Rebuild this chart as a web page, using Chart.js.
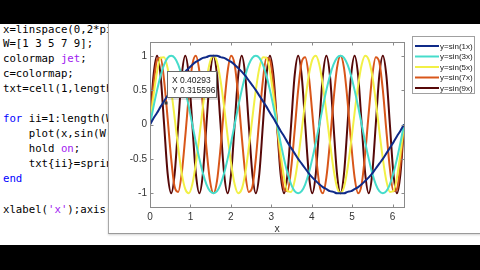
<!DOCTYPE html>
<html><head><meta charset="utf-8">
<script src="https://cdn.jsdelivr.net/npm/chart.js@4/dist/chart.umd.min.js"></script>
<style>
html,body{margin:0;padding:0;width:480px;height:270px;overflow:hidden;background:#fff;}
#topbar{position:absolute;left:0;top:0;width:480px;height:24px;background:#000;z-index:5;}
#botbar{position:absolute;left:0;top:245px;width:480px;height:25px;background:#000;z-index:5;}
#code{position:absolute;left:0;top:0;width:108px;height:245px;overflow:hidden;font-family:'DejaVu Sans Mono',monospace;font-size:10.7px;color:#000;z-index:1;}
.l{position:absolute;left:3px;white-space:pre;line-height:14px;}
.k{color:#0000ff}.s{color:#a020f0}
#win{position:absolute;left:108px;top:15px;width:372px;height:218px;background:#fff;border-left:1px solid #a8a8a8;border-bottom:1px solid #9a9a9a;box-shadow:0 1px 2px rgba(0,0,0,0.18);z-index:2;}
#c{position:absolute;left:0;top:0;z-index:3;}
</style>
</head><body>
<div id="topbar"></div><div id="botbar"></div>
<div id="code">
<div class="l" style="top:23px">x=linspace(0,2*pi,1000);</div>
<div class="l" style="top:37px">W=[1 3 5 7 9];</div>
<div class="l" style="top:52px">colormap <span class="s">jet</span>;</div>
<div class="l" style="top:67px">c=colormap;</div>
<div class="l" style="top:82px">txt=cell(1,length(W));</div>
<div class="l" style="top:112px"><span class="k">for</span> ii=1:length(W)</div>
<div class="l" style="top:127px">    plot(x,sin(W(ii)*x));</div>
<div class="l" style="top:142px">    hold <span class="s">on</span>;</div>
<div class="l" style="top:157px">    txt{ii}=sprintf(...);</div>
<div class="l" style="top:172px"><span class="k">end</span></div>
<div class="l" style="top:203px">xlabel(<span class="s">'x'</span>);axis([0 2*pi -1.2 1.2]);</div>
</div>
<div id="win"></div>
<canvas id="c" width="480" height="270"></canvas>
<script>
const labels = ['y=sin(1x)','y=sin(3x)','y=sin(5x)','y=sin(7x)','y=sin(9x)'];
const colors = ['#0f2a88','#46dccb','#f2f046','#d8561a','#560808'];
const xs = [0,0.087,0.175,0.262,0.349,0.436,0.524,0.611,0.698,0.785,0.873,0.960,1.047,1.134,1.222,1.309,1.396,1.484,1.571,1.658,1.745,1.833,1.920,2.007,2.094,2.182,2.269,2.356,2.443,2.531,2.618,2.705,2.793,2.880,2.967,3.054,3.142,3.229,3.316,3.403,3.491,3.578,3.665,3.752,3.840,3.927,4.014,4.102,4.189,4.276,4.363,4.451,4.538,4.625,4.712,4.800,4.887,4.974,5.061,5.149,5.236,5.323,5.411,5.498,5.585,5.672,5.760,5.847,5.934,6.021,6.109,6.196,6.283];
const s1 = [0,0.09,0.17,0.26,0.34,0.42,0.5,0.57,0.64,0.71,0.77,0.82,0.87,0.91,0.94,0.97,0.98,1,1,1,0.98,0.97,0.94,0.91,0.87,0.82,0.77,0.71,0.64,0.57,0.5,0.42,0.34,0.26,0.17,0.09,0,-0.09,-0.17,-0.26,-0.34,-0.42,-0.5,-0.57,-0.64,-0.71,-0.77,-0.82,-0.87,-0.91,-0.94,-0.97,-0.98,-1,-1,-1,-0.98,-0.97,-0.94,-0.91,-0.87,-0.82,-0.77,-0.71,-0.64,-0.57,-0.5,-0.42,-0.34,-0.26,-0.17,-0.09,0];
const s3 = [0,0.26,0.5,0.71,0.87,0.97,1,0.97,0.87,0.71,0.5,0.26,0,-0.26,-0.5,-0.71,-0.87,-0.97,-1,-0.97,-0.87,-0.71,-0.5,-0.26,
0,0.26,0.5,0.71,0.87,0.97,1,0.97,0.87,0.71,0.5,0.26,0,-0.26,-0.5,-0.71,-0.87,-0.97,-1,-0.97,-0.87,-0.71,-0.5,-0.26,
0,0.26,0.5,0.71,0.87,0.97,1,0.97,0.87,0.71,0.5,0.26,0,-0.26,-0.5,-0.71,-0.87,-0.97,-1,-0.97,-0.87,-0.71,-0.5,-0.26,0];
const s5 = [0,0.42,0.77,0.97,0.98,0.82,0.5,0.09,-0.34,-0.71,-0.94,-1,-0.87,-0.57,-0.17,0.26,0.64,0.91,1,0.91,0.64,0.26,-0.17,-0.57,-0.87,-1,-0.94,-0.71,-0.34,0.09,0.5,0.82,0.98,0.97,0.77,0.42,0,
-0.42,-0.77,-0.97,-0.98,-0.82,-0.5,-0.09,0.34,0.71,0.94,1,0.87,0.57,0.17,-0.26,-0.64,-0.91,-1,-0.91,-0.64,-0.26,0.17,0.57,0.87,1,0.94,0.71,0.34,-0.09,-0.5,-0.82,-0.98,-0.97,-0.77,-0.42,0];
const s7 = [0,0.57,0.94,0.97,0.64,0.09,-0.5,-0.91,-0.98,-0.71,-0.17,0.42,0.87,1,0.77,0.26,-0.34,-0.82,-1,-0.82,-0.34,0.26,0.77,1,0.87,0.42,-0.17,-0.71,-0.98,-0.91,-0.5,0.09,0.64,0.97,0.94,0.57,0,
-0.57,-0.94,-0.97,-0.64,-0.09,0.5,0.91,0.98,0.71,0.17,-0.42,-0.87,-1,-0.77,-0.26,0.34,0.82,1,0.82,0.34,-0.26,-0.77,-1,-0.87,-0.42,0.17,0.71,0.98,0.91,0.5,-0.09,-0.64,-0.97,-0.94,-0.57,0];
const s9 = [0,0.71,1,0.71,0,-0.71,-1,-0.71,0,0.71,1,0.71,0,-0.71,-1,-0.71,0,0.71,1,0.71,0,-0.71,-1,-0.71,0,0.71,1,0.71,0,-0.71,-1,-0.71,0,0.71,1,0.71,0,-0.71,-1,-0.71,0,0.71,1,0.71,0,-0.71,-1,-0.71,0,0.71,1,0.71,0,-0.71,-1,-0.71,0,0.71,1,0.71,0,-0.71,-1,-0.71,0,0.71,1,0.71,0,-0.71,-1,-0.71,0];
const xTicks = [0,1,2,3,4,5,6];
const yTicks = [-1,-0.5,0,0.5,1];
const tipX = [0.40293];
const tipY = [0.315596];
const xLabel = 'x';

const series = [s1,s3,s5,s7,s9];
const FONT = "'Liberation Sans', Arial, sans-serif";

const overlay = {
  id:'overlay',
  afterDatasetsDraw(chart){
    const {ctx, chartArea:a, scales:{x,y}} = chart;
    ctx.save();
    ctx.strokeStyle='#8a8a8a'; ctx.lineWidth=1;
    const L=Math.round(a.left)+0.5, T=Math.round(a.top)+0.5, R=Math.round(a.right)+0.5, B=Math.round(a.bottom)+0.5;
    ctx.strokeRect(L,T,R-L,B-T);
    ctx.beginPath();
    xTicks.forEach(v=>{const p=Math.round(x.getPixelForValue(v))+0.5; ctx.moveTo(p,B); ctx.lineTo(p,B-3); ctx.moveTo(p,T); ctx.lineTo(p,T+3);});
    yTicks.forEach(v=>{const p=Math.round(y.getPixelForValue(v))+0.5; ctx.moveTo(L,p); ctx.lineTo(L+3,p); ctx.moveTo(R,p); ctx.lineTo(R-3,p);});
    ctx.stroke();
    const px=Math.round(x.getPixelForValue(tipX[0])), py=Math.round(y.getPixelForValue(tipY[0]));
    ctx.fillStyle='rgba(0,0,0,0.12)';
    ctx.fillRect(px+2,py-31,51,28);
    ctx.fillStyle='#ffffff';
    ctx.fillRect(px+1,py-32,50,27);
    ctx.strokeStyle='#6a6a6a';
    ctx.strokeRect(px+1.5,py-31.5,49,26);
    ctx.fillStyle='#3a3a3a';
    ctx.fillRect(px-1.5,py-1.5,3,3);
    ctx.fillStyle='#1a1a1a';
    ctx.font='8.5px '+FONT;
    ctx.textBaseline='middle'; ctx.textAlign='left';
    ctx.fillText('X '+tipX[0], px+6, py-22);
    ctx.fillText('Y '+tipY[0], px+6, py-12);
    ctx.fillStyle='#ffffff';
    ctx.fillRect(412,36,62,57);
    ctx.strokeStyle='#a0a0a0';
    ctx.strokeRect(412.5,36.5,62,57);
    ctx.font='8px '+FONT;
    labels.forEach((lb,i)=>{
      const yy=46+i*10.5;
      ctx.strokeStyle=colors[i]; ctx.lineWidth=2;
      ctx.beginPath(); ctx.moveTo(415,yy); ctx.lineTo(439,yy); ctx.stroke();
      ctx.fillStyle='#1a1a1a';
      ctx.fillText(lb,440,yy+0.5);
    });
    ctx.restore();
  }
};

new Chart(document.getElementById('c'), {
  type:'line',
  data:{ datasets: series.map((s,i)=>({
    label: labels[i],
    data: xs.map((xv,j)=>({x:xv, y:s[j]})),
    borderColor: colors[i],
    backgroundColor: colors[i],
    borderWidth: 2,
    pointRadius: 0,
    fill:false,
    cubicInterpolationMode:'monotone'
  }))},
  options:{
    responsive:false, animation:false,
    layout:{padding:{left:130,right:76,top:42,bottom:33}},
    plugins:{legend:{display:false},tooltip:{enabled:false}},
    scales:{
      x:{type:'linear',min:0,max:6.2832,
        afterBuildTicks:s=>{s.ticks=xTicks.map(v=>({value:v}));},
        ticks:{padding:4,color:'#333',font:{family:FONT,size:10},maxRotation:0,autoSkip:false,callback:v=>String(v)},
        grid:{display:false,drawTicks:false},border:{display:false},
        title:{display:true,text:xLabel,color:'#333',font:{family:FONT,size:10.5},padding:{top:0,bottom:2}},
        afterFit:s=>{s.height=30;}
      },
      y:{type:'linear',min:-1.2,max:1.2,
        afterBuildTicks:s=>{s.ticks=yTicks.map(v=>({value:v}));},
        ticks:{padding:3,color:'#333',font:{family:FONT,size:10},autoSkip:false,callback:v=>String(v)},
        grid:{display:false,drawTicks:false},border:{display:false},
        afterFit:s=>{s.width=20;}
      }
    }
  },
  plugins:[overlay]
});
</script>
</body></html>
